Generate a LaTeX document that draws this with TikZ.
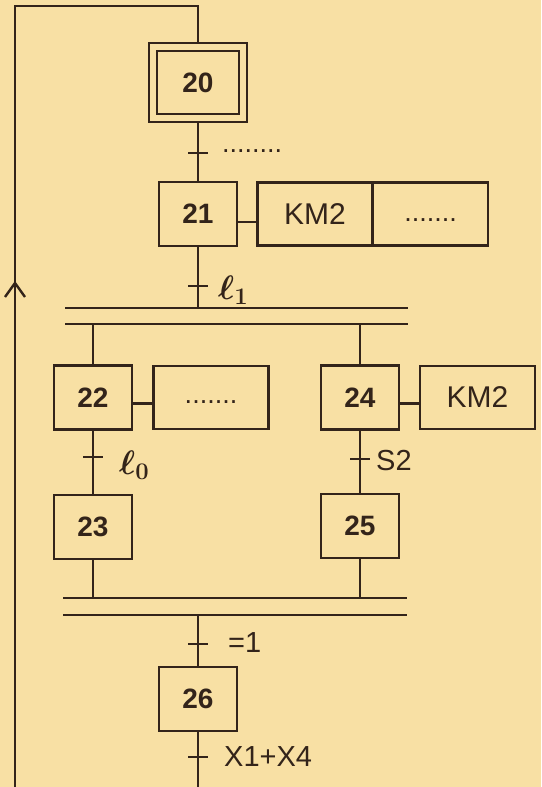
\RequirePackage{fix-cm}
\documentclass[tikz,border=0pt]{standalone}
\usepackage{fontspec}
\setmainfont{Liberation Sans}
\usetikzlibrary{calc}
\definecolor{bg}{HTML}{F8E0A4}
\definecolor{ink}{HTML}{33241A}
\begin{document}
\begin{tikzpicture}[x=1pt,y=-1pt,
  ln/.style={draw=ink,line width=2.4pt},
  stepbox/.style={draw=ink,line width=2.4pt,minimum width=78pt,minimum height=64pt,inner sep=0pt,font=\fontsize{28}{28}\selectfont\bfseries,text=ink},
  actbox/.style={draw=ink,line width=2.4pt,minimum width=115pt,minimum height=63pt,inner sep=0pt,font=\fontsize{30}{30}\selectfont,text=ink},
  lbl/.style={font=\fontsize{29}{29}\selectfont,text=ink,inner sep=0pt,anchor=west},
  elllbl/.style={font=\fontsize{34}{34}\selectfont\boldmath,text=ink,inner sep=0pt,anchor=west},
  dots/.style={font=\fontsize{27}{27}\selectfont,text=ink,inner sep=0pt},
]
\fill[bg] (0,0) rectangle (541,787);
\useasboundingbox (0,0) rectangle (541,787);

% steps
\node[stepbox,minimum width=82pt,minimum height=63pt] (s20) at (198,82.5) {20};
\node[draw=ink,line width=2.4pt,minimum width=98pt,minimum height=79pt,inner sep=0pt] (s20o) at (198,82.5) {};
\node[stepbox] (s21) at (198,214) {21};
\node[stepbox] (s22) at (93,397.5) {22};
\node[stepbox] (s24) at (360,397.5) {24};
\node[stepbox] (s23) at (93,527) {23};
\node[stepbox] (s25) at (360,526) {25};
\node[stepbox] (s26) at (198,699) {26};

% actions
\node[actbox] (a21) at (315,214) {KM2};
\node[actbox] (a21b) at (430.5,214) {};
\node[dots] (d21) at (430.5,220) {.......};
\node[actbox] (a22) at (211,397.5) {};
\node[dots] (d22) at (211,402) {.......};
\node[actbox] (a24) at (477.5,397.5) {KM2};

\draw[ln] ([yshift=-8pt]s21.east) -- ([yshift=-8pt]s21.east -| a21.west);
\draw[ln] ([yshift=-6pt]s22.east) -- ([yshift=-6pt]s22.east -| a22.west);
\draw[ln] ([yshift=-6pt]s24.east) -- ([yshift=-6pt]s24.east -| a24.west);

% bars
\coordinate (b1L) at (65,308); \coordinate (b1R) at (408,308);
\coordinate (b2L) at (65,324); \coordinate (b2R) at (408,324);
\coordinate (b3L) at (63,598); \coordinate (b3R) at (407,598);
\coordinate (b4L) at (63,615); \coordinate (b4R) at (407,615);
\draw[ln] (b1L) -- (b1R);
\draw[ln] (b2L) -- (b2R);
\draw[ln] (b3L) -- (b3R);
\draw[ln] (b4L) -- (b4R);

% links
\draw[ln] (s20o.south) -- (s21.north);
\draw[ln] (s21.south) -- (s21.south |- b1L);
\draw[ln] (s22.north |- b2L) -- (s22.north);
\draw[ln] (s24.north |- b2L) -- (s24.north);
\draw[ln] (s22.south) -- (s23.north);
\draw[ln] (s24.south) -- (s25.north);
\draw[ln] (s23.south) -- (s23.south |- b3L);
\draw[ln] (s25.south) -- (s25.south |- b3L);
\draw[ln] (s26.north |- b4L) -- (s26.north);
\coordinate (bot) at (198,787);
\draw[ln] (s26.south) -- (bot);

% loop back
\coordinate (lb) at (15,787);
\coordinate (lt) at (15,6);
\draw[ln] (lb) -- (lt) -- (s20o.north |- lt) -- (s20o.north);
\coordinate (arr) at (15,283);
\draw[ln] ($(arr)+(-10,14)$) -- (arr) -- ($(arr)+(10,14)$);

% transitions
\coordinate (t1) at (198,153);
\coordinate (t2) at (198,286);
\coordinate (t3) at (93,457);
\coordinate (t4) at (360,459);
\coordinate (t5) at (198,644);
\coordinate (t6) at (198,757);
\foreach \t in {t1,t2,t3,t4,t5,t6}
  \draw[ln] ($(\t)+(-10,0)$) -- ($(\t)+(10,0)$);

\node[dots,anchor=west] (r1) at (222,151) {........};
\node[elllbl] (r2) at (218,290) {$\ell_1$};
\node[elllbl] (r3) at (119,465) {$\ell_0$};
\node[lbl] (r4) at (376,461) {S2};
\node[lbl] (r5) at (228,643) {=1};
\node[lbl] (r6) at (224,757) {X1+X4};
\end{tikzpicture}
\end{document}
